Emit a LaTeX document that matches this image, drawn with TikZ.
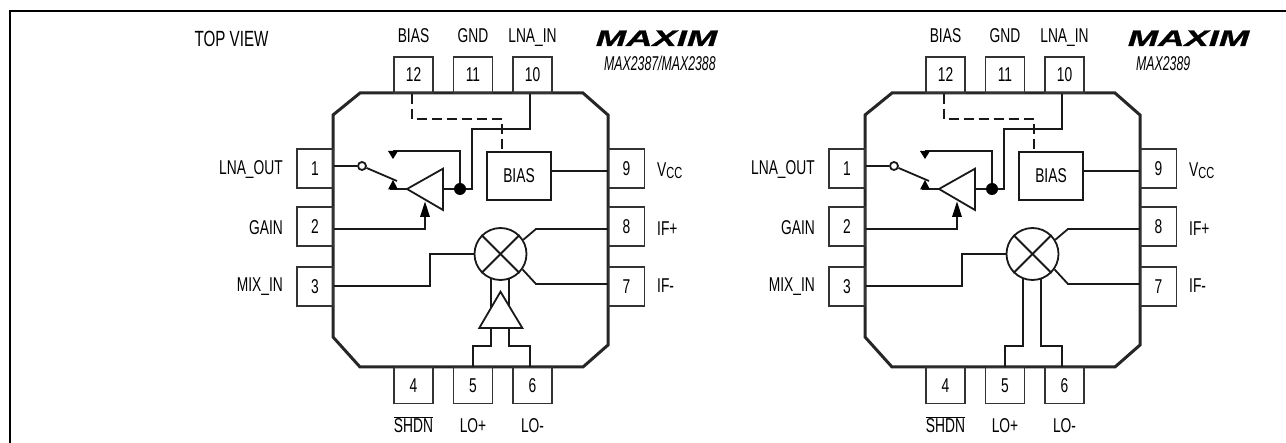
\documentclass[tikz,border=0pt]{standalone}
\usepackage{fontspec}
\setmainfont{Liberation Sans}[FakeStretch=0.69]
\newfontfamily\logofont{Liberation Sans}[FakeStretch=1.62,FakeBold=1.2]
\newfontfamily\partfont{Liberation Sans}[FakeStretch=0.615]

\begin{document}
\begin{tikzpicture}[
    x=1pt, y=-1pt,
    frame/.style={draw=black, line width=2pt},
    chipbody/.style={draw=black!85, line width=3pt, line join=miter},
    wire/.style={draw=black!90, line width=1.8pt},
    ctrl/.style={draw=black!90, line width=1.8pt, dash pattern=on 10pt off 5pt},
    hpin/.style={rectangle, draw=black!80, line width=1.4pt, minimum width=39pt, minimum height=36pt, inner sep=0pt, font=\fontsize{20}{22}\selectfont},
    vpin/.style={hpin, minimum width=36pt, minimum height=39pt},
    lbl/.style={inner sep=0pt, anchor=base, text=black, font=\fontsize{20}{22}\selectfont},
    tipfill/.style={fill=black, draw=none},
    bias/.style={rectangle, draw=black!90, line width=1.8pt, minimum width=64pt, minimum height=48pt, inner sep=0pt, font=\fontsize{20}{22}\selectfont},
    mixer/.style={circle, draw=black!90, fill=white, line width=1.8pt, minimum size=52pt, inner sep=0pt},
    opendot/.style={circle, draw=black!90, fill=white, line width=1.8pt, minimum size=8pt, inner sep=0pt},
    soliddot/.style={circle, fill=black, minimum size=12pt, inner sep=0pt},
]
\useasboundingbox (0,0) rectangle (1286,443);

% frame
\draw[frame] (9.5,443) -- (9.5,11) -- (1286,11);
\node[lbl, font=\fontsize{22}{24}\selectfont] (topview) at (231.5,46.5) {TOP VIEW};

\foreach \ox/\p/\partno in {0/a/{MAX2387/MAX2388},532/b/{MAX2389}} {
\begin{scope}[shift={(\ox,0)}]
% package
\draw[chipbody] (360,93) -- (583,93) -- (608,115) -- (608,345) -- (583,367) -- (360,367) -- (333,337) -- (333,115) -- cycle;
% pins
\foreach \n/\x/\lab in {12/413.5/BIAS, 11/473/GND, 10/532.5/LNA\_IN} {
    \node[hpin] (\p\n) at (\x,75) {\n};
    \node[lbl] at (\x,43) {\lab};
}
\foreach \n/\x/\lab in {4/413.5/{$\overline{\mbox{SHDN}}$}, 5/473/LO+, 6/532.5/LO-} {
    \node[hpin] (\p\n) at (\x,385.5) {\n};
    \node[lbl] at (\x,433) {\lab};
}
\foreach \n/\y/\lab/\base in {1/168.5/LNA\_OUT/175, 2/226.5/GAIN/235, 3/286.5/MIX\_IN/292} {
    \node[vpin] (\p\n) at (315,\y) {\n};
    \node[lbl, anchor=base east] at (283,\base) {\lab};
}
\foreach \n/\y/\lab/\base in {9/168.5/{V\raisebox{-2pt}{\fontsize{16}{16}\selectfont CC}}/177, 8/226.5/IF+/236, 7/286.5/IF-/293} {
    \node[vpin] (\p\n) at (626.5,\y) {\n};
    \node[lbl, anchor=base west] at (657,\base) {\lab};
}
% logo and part number
\node[inner sep=0pt, anchor=base east, font=\logofont\fontsize{22.5}{24}\selectfont\bfseries\itshape] (logo\p) at (717.5,46) {MAXIM};
\node[inner sep=0pt, anchor=base west, text=black, font=\partfont\fontsize{20}{22}\selectfont\itshape] (part\p) at (604,71) {\partno};
% bias block
\node[bias] (bias\p) at (519,176) {BIAS};
\draw[wire] (bias\p.east |- 0,171) -- (\p9.west |- 0,171);
\draw[ctrl] ([xshift=-1.5pt]\p12.south) -- (412,119) -- (502,119) -- (502,152);
% amplifier with switch
\coordinate (amp\p) at (407,189);
\node[opendot] (sw\p) at (362,166) {};
\node[soliddot] (dot\p) at (460,189) {};
\draw[wire] (amp\p) -- (443,168.7) -- (443,210) -- cycle;
\draw[wire] (\p1.east |- sw\p) -- (sw\p);
\draw[wire] (sw\p) -- (397,181);
\draw[wire] (390,189) -- (amp\p);
\draw[wire] (443,189) -- (dot\p);
\draw[wire] (dot\p) -- (460,151) -- (393,151);
\draw[wire] (dot\p) -- (472,189) -- (472,129) -- (530,129) -- ([xshift=-2.5pt]\p10.south);
\fill[tipfill] (388,151) -- (398,151) -- (393,159) -- cycle;
\fill[tipfill] (388,189.5) -- (398,189.5) -- (393,180) -- cycle;
% gain
\draw[wire] (\p2.east |- 0,229) -- (425,229) -- (425,215);
\fill[tipfill] (420,217) -- (430,217) -- (425,201.5) -- cycle;
% mixer
\node[mixer] (mix\p) at (500.5,254) {};
\draw[wire] (mix\p.45) -- (mix\p.225);
\draw[wire] (mix\p.135) -- (mix\p.315);
\draw[wire] (mix\p.32) -- (536,229) -- (\p8.west |- 0,229);
\draw[wire] (mix\p.-35) -- (536,284) -- (\p7.west |- 0,284);
\draw[wire] (\p3.east |- 0,286) -- (430,286) -- (430,254) -- (mix\p.west);
\end{scope}
}

% local oscillator feed, with buffer
\draw[wire] (mixa.-110 -| 491,0) -- (491,346) -- (473,346) -- (a5.north);
\draw[wire] (mixa.-70 -| 509,0) -- (509,346) -- (530,346) -- ([xshift=-2.5pt]a6.north);
\draw[wire, fill=white] (500.5,291.7) -- (522.3,328) -- (479.3,328) -- cycle;
% local oscillator feed, no buffer
\draw[wire] (mixb.-110 -| 1023,0) -- (1023,346) -- (1005,346) -- (b5.north);
\draw[wire] (mixb.-70 -| 1041,0) -- (1041,346) -- (1062,346) -- ([xshift=-2.5pt]b6.north);
\end{tikzpicture}
\end{document}
